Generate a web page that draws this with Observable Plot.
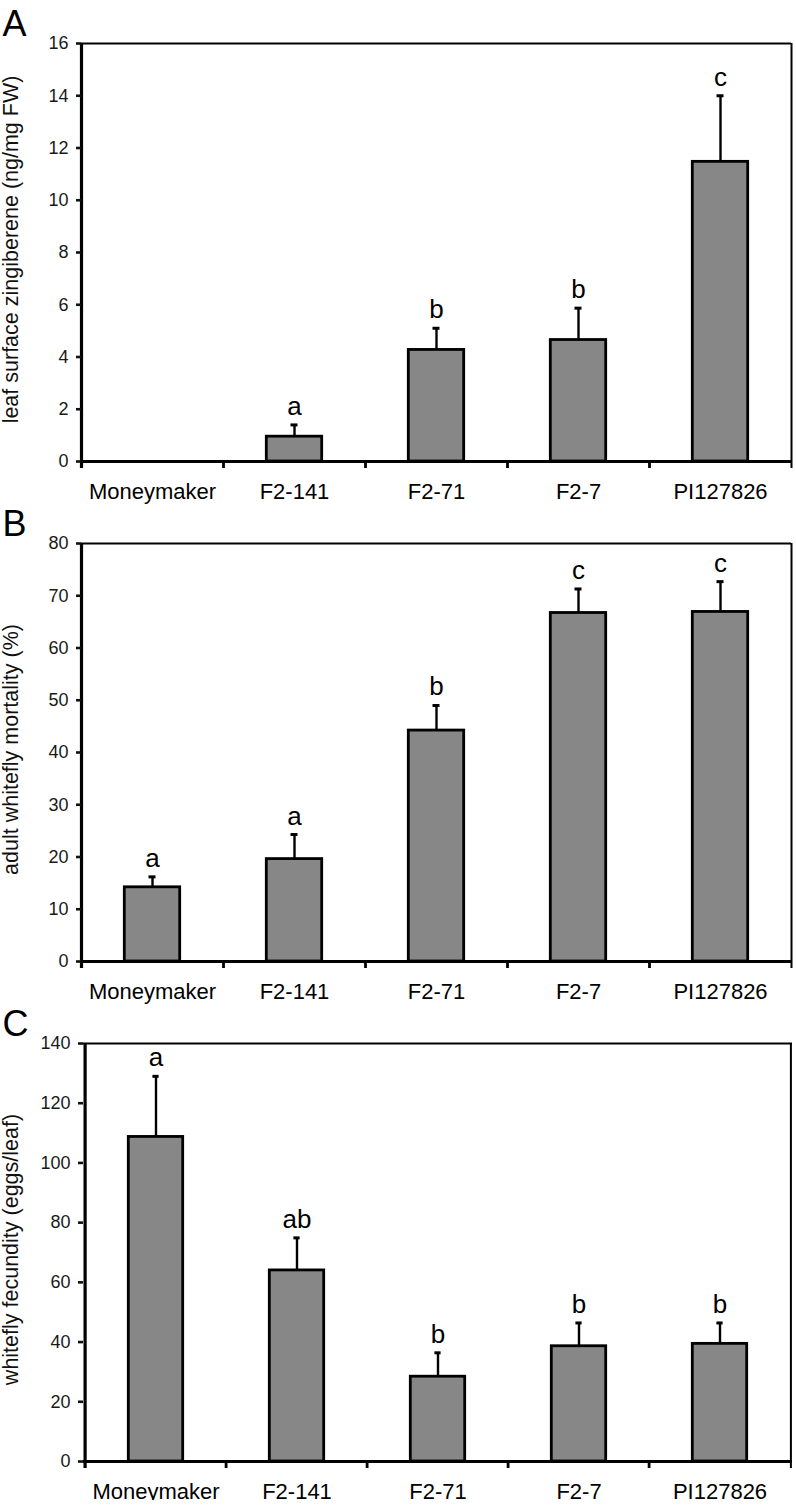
<!DOCTYPE html>
<html>
<head>
<meta charset="utf-8">
<script src="https://cdn.jsdelivr.net/npm/d3@7"></script>
<script src="https://cdn.jsdelivr.net/npm/@observablehq/plot@0.6"></script>
<style>
  html, body { margin: 0; padding: 0; background: white; }
  #chart svg { display: block; overflow: visible; }
</style>
</head>
<body>
<div id="chart"></div>
<script>
const categories = ["Moneymaker", "F2-141", "F2-71", "F2-7", "PI127826"];

// Panel A: leaf surface zingiberene (ng/mg FW)
const zingMean = [0, 0.95, 4.27, 4.65, 11.47];
const zingSE = [0, 0.45, 0.83, 1.22, 2.53];
const zingLetters = ["", "a", "b", "b", "c"];
const zingTicks = [0, 2, 4, 6, 8, 10, 12, 14, 16];

// Panel B: adult whitefly mortality (%)
const mortMean = [14.2, 19.6, 44.2, 66.7, 66.9];
const mortSE = [2.0, 4.7, 4.8, 4.6, 5.8];
const mortLetters = ["a", "a", "b", "c", "c"];
const mortTicks = [0, 10, 20, 30, 40, 50, 60, 70, 80];

// Panel C: whitefly fecundity (eggs/leaf)
const fecMean = [108.7, 64.0, 28.4, 38.6, 39.4];
const fecSE = [20.3, 10.9, 8.0, 7.8, 7.0];
const fecLetters = ["a", "ab", "b", "b", "b"];
const fecTicks = [0, 20, 40, 60, 80, 100, 120, 140];

const FONT = "'Liberation Sans', Arial, Helvetica, sans-serif";

function panel({letter, mean, se, letters, ticks, label, ml = 81, mr = 5}) {
  const width = 796, height = 500, mt = 43, mb = 39;
  const fh = height - mt - mb;
  const step = (width - ml - mr) / categories.length;
  const data = categories.map((c, i) => ({cat: c, mean: mean[i], upper: mean[i] + se[i], letter: letters[i]}));
  const shown = data.filter(d => d.mean > 0);
  const ymax = ticks[ticks.length - 1];
  const last = [categories[categories.length - 1]];
  return Plot.plot({
    width, height,
    marginLeft: ml, marginRight: mr, marginTop: mt, marginBottom: mb,
    style: {fontFamily: FONT, background: "transparent", overflow: "visible", color: "#111"},
    x: {domain: categories, padding: 0},
    y: {domain: [0, ymax]},
    marks: [
      // error bars (upward only)
      Plot.ruleX(shown, {x: "cat", y1: "mean", y2: "upper", stroke: "#000", strokeWidth: 2.4}),
      Plot.tickY(shown, {x: "cat", y: "upper", stroke: "#000", strokeWidth: 3, insetLeft: step / 2 - 3.5, insetRight: step / 2 - 3.5}),
      // bars
      Plot.barY(shown, {x: "cat", y: "mean", fill: "#878787", stroke: "#000", strokeWidth: 2.8, insetLeft: 43.3, insetRight: 43.3}),
      // significance letters
      Plot.text(shown, {x: "cat", y: "upper", text: "letter", lineAnchor: "bottom", dy: -10, fontSize: 26, fill: "#000"}),
      // frame: top and right (thin)
      Plot.ruleY([ymax], {stroke: "#000", strokeWidth: 2}),
      Plot.ruleX(last, {x: d => d, dx: step / 2, stroke: "#000", strokeWidth: 2, insetBottom: -7}),
      // x category boundary ticks
      Plot.ruleX(categories.slice(1), {x: d => d, dx: -step / 2, stroke: "#000", strokeWidth: 2.8, insetTop: fh, insetBottom: -7}),
      // left axis (thick)
      Plot.ruleX([categories[0]], {x: d => d, dx: -step / 2, stroke: "#000", strokeWidth: 3.2, insetBottom: -7}),
      // baseline (thick)
      Plot.ruleY([0], {stroke: "#000", strokeWidth: 3.2}),
      Plot.axisY({ticks, tickSize: 5, tickPadding: 8, strokeWidth: 2.6, fontSize: 18, label: null, tickFormat: d => d, fill: "#1a1a1a"}),
      Plot.axisX({tickSize: 0, tickPadding: 22, fontSize: 22, label: null, fill: "#000"}),
      // y label
      Plot.text([label], {text: d => d, frameAnchor: "left", rotate: -90, dx: -(ml - 11), dy: -3, fontSize: 21.5, textAnchor: "middle", lineAnchor: "middle", fill: "#111"}),
      // panel letter
      Plot.text([letter], {text: d => d, frameAnchor: "top-left", dx: -(ml - 2), dy: -8, fontSize: 36, textAnchor: "start", lineAnchor: "bottom", fill: "#000"})
    ]
  });
}

const root = document.getElementById("chart");
root.append(panel({letter: "A", mean: zingMean, se: zingSE, letters: zingLetters, ticks: zingTicks, label: "leaf surface zingiberene (ng/mg FW)"}));
root.append(panel({letter: "B", mean: mortMean, se: mortSE, letters: mortLetters, ticks: mortTicks, label: "adult whitefly mortality (%)"}));
root.append(panel({letter: "C", mean: fecMean, se: fecSE, letters: fecLetters, ticks: fecTicks, label: "whitefly fecundity (eggs/leaf)", ml: 83, mr: 4}));
</script>
</body>
</html>
